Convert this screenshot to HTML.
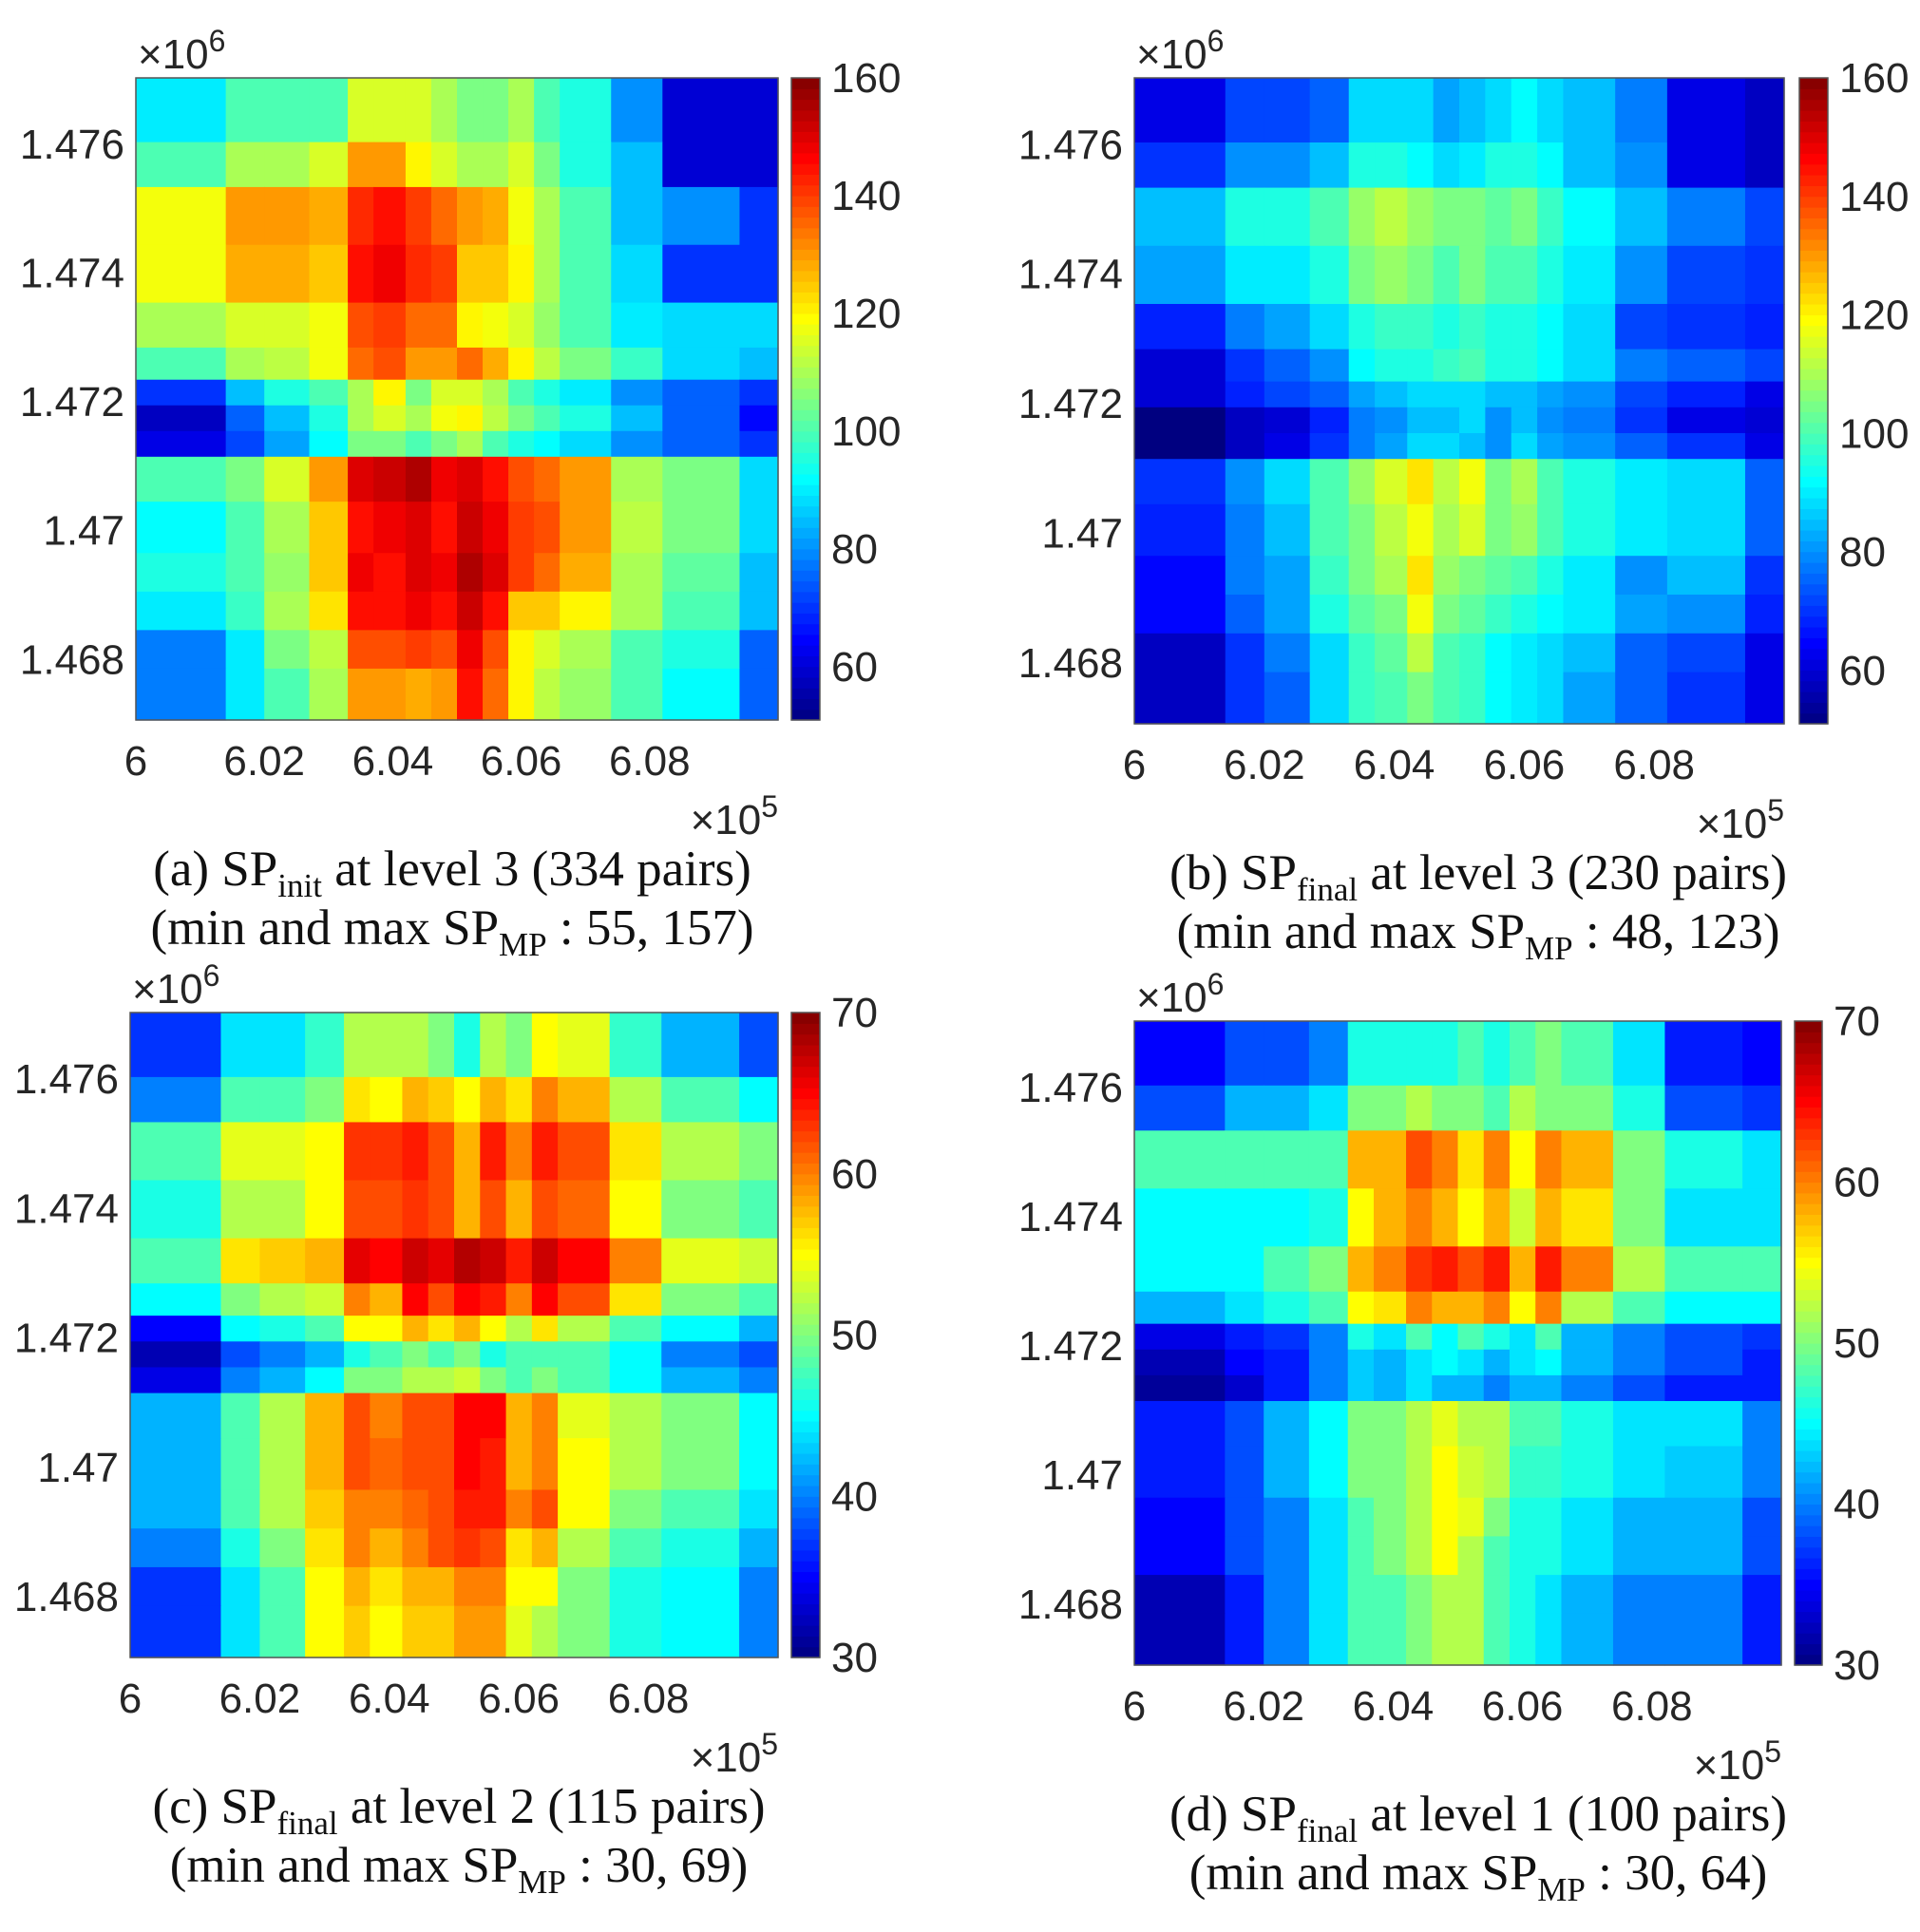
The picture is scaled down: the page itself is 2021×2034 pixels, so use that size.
<!DOCTYPE html>
<html><head><meta charset="utf-8">
<style>
html,body{margin:0;padding:0;background:#fff;}
svg{display:block;}
.tk{font-family:"Liberation Sans",sans-serif;font-size:44px;fill:#262626;}
.cap{font-family:"Liberation Serif",serif;font-size:53px;fill:#111;}
</style></head>
<body>
<svg id="fig" width="2021" height="2034" viewBox="0 0 2021 2034" xmlns="http://www.w3.org/2000/svg"></svg>
<script>
// shared grid edges (fractions of axis range)
const xEdges=[0,0.14,0.2,0.27,0.33,0.37,0.42,0.46,0.5,0.54,0.58,0.62,0.66,0.74,0.82,0.94,1];
const yEdges=[0,0.1,0.17,0.26,0.35,0.42,0.47,0.51,0.55,0.59,0.66,0.74,0.8,0.86,0.92,1];
const xTickLabels=["6","6.02","6.04","6.06","6.08"];
const xTickVals=[6,6.02,6.04,6.06,6.08];
const yTickLabels=["1.476","1.474","1.472","1.47","1.468"];
const yTickVals=[1.476,1.474,1.472,1.470,1.468];
const cbTicksA=[60,80,100,120,140,160];
const cbTicksC=[30,40,50,60,70];
const valsA=[
[90,100,100,100,115,115,115,110,105,105,110,100,95,80,60,60],
[100,110,110,115,130,130,120,115,110,110,115,105,95,85,60,60],
[118,130,130,128,142,145,140,135,130,128,118,110,100,85,80,70],
[118,128,128,125,145,148,142,140,125,125,120,110,100,88,70,70],
[110,115,115,118,138,140,135,135,120,118,115,108,100,90,88,88],
[100,110,112,118,135,138,130,130,135,128,120,112,105,98,88,85],
[70,85,95,100,110,120,105,115,115,110,100,95,90,80,75,70],
[58,75,85,95,110,115,110,118,120,112,105,100,95,85,75,65],
[62,72,82,92,105,105,100,105,110,100,95,92,88,80,75,70],
[100,105,115,130,150,152,155,148,150,145,138,135,130,110,105,88],
[92,100,110,125,145,148,150,145,152,148,140,138,130,112,105,88],
[95,100,108,125,148,145,150,148,155,150,140,135,128,110,102,85],
[90,98,110,122,145,145,148,145,152,145,125,125,120,110,100,85],
[78,90,105,112,138,138,140,138,148,138,120,115,110,100,95,75],
[78,90,100,110,130,130,128,130,145,135,120,112,108,100,92,75]];
const valsB=[
[62,72,72,75,88,88,88,82,85,88,92,88,85,78,62,58],
[70,80,80,85,95,95,92,88,90,95,95,92,85,80,62,58],
[85,95,95,100,108,112,108,105,105,102,105,98,92,85,78,72],
[82,90,90,95,105,108,105,100,105,100,100,95,90,80,72,70],
[68,78,82,88,95,98,98,95,98,95,95,92,88,72,70,68],
[60,70,75,80,92,95,95,98,100,95,95,92,88,78,75,72],
[60,68,72,75,82,85,88,88,88,85,85,82,80,72,68,62],
[50,58,60,68,78,80,85,85,88,80,85,80,78,70,62,60],
[50,58,62,70,78,82,88,88,85,80,88,82,80,75,70,62],
[70,80,88,100,108,115,122,112,118,105,110,100,95,90,88,75],
[68,78,85,100,105,112,118,110,115,105,108,100,95,90,88,75],
[65,78,82,98,105,110,122,108,105,102,100,95,90,80,85,70],
[65,75,82,95,102,105,118,105,102,98,95,92,90,82,80,68],
[58,70,78,88,98,102,112,100,98,92,90,88,85,75,72,62],
[58,70,75,88,98,100,105,100,98,92,90,88,82,75,70,62]];
const valsC=[
[37,44,44,47,52,52,52,50,46,52,50,55,54,47,42,38],
[40,48,48,50,56,55,58,57,55,58,56,60,58,52,48,45],
[48,54,54,55,63,63,64,62,58,64,60,64,62,56,52,50],
[46,52,52,55,62,62,63,62,58,62,58,62,61,55,50,48],
[48,56,57,58,66,65,67,66,68,67,64,67,65,60,54,53],
[45,50,52,53,60,58,65,62,65,64,60,65,62,56,50,48],
[35,45,46,48,55,55,58,56,58,55,52,56,52,48,45,42],
[32,38,40,42,46,48,50,48,50,46,48,48,48,45,40,38],
[34,40,42,45,50,50,52,52,53,50,48,50,48,45,42,40],
[42,48,52,58,62,60,62,62,65,65,58,60,54,52,50,45],
[42,48,52,58,62,61,62,62,65,64,58,60,55,52,50,45],
[42,48,52,57,60,60,61,62,64,64,60,62,55,50,48,44],
[40,46,50,56,60,58,60,62,63,62,56,58,52,48,46,42],
[37,44,48,55,58,56,58,58,60,60,55,55,50,46,45,40],
[37,44,48,55,57,55,57,57,59,59,54,52,50,46,45,40]];
const valsD=[
[35,38,38,40,46,46,46,46,48,46,48,50,48,44,36,35],
[38,42,42,44,50,50,52,50,50,48,52,50,50,46,38,37],
[48,48,48,48,58,58,62,60,56,60,55,60,58,50,46,44],
[45,45,45,46,55,58,60,58,55,58,53,58,56,50,44,44],
[45,45,48,50,58,60,63,64,62,64,58,64,60,52,48,48],
[42,44,46,48,55,56,60,58,58,60,55,60,52,48,45,45],
[34,36,37,40,46,44,48,45,48,46,44,48,42,40,38,37],
[32,35,36,40,43,42,44,45,44,42,44,45,42,40,38,36],
[31,33,36,40,43,42,44,42,42,40,42,42,40,38,36,36],
[36,38,42,45,50,50,52,54,52,52,48,48,46,44,44,40],
[36,38,42,45,50,50,52,55,53,52,47,47,46,44,43,40],
[35,38,40,44,48,50,52,55,54,50,46,46,44,42,42,38],
[35,38,40,44,48,50,52,55,52,48,46,46,44,42,42,38],
[32,36,40,44,48,48,50,52,52,48,46,44,42,40,40,36],
[32,36,40,44,48,48,50,52,52,48,46,44,42,40,40,36]];

const NS="http://www.w3.org/2000/svg";
const svg=document.getElementById('fig');
function jet(t){t=Math.max(0,Math.min(1,t));
 const c=x=>Math.round(255*Math.max(0,Math.min(1,x)));
 return `rgb(${c(1.5-Math.abs(4*t-3))},${c(1.5-Math.abs(4*t-2))},${c(1.5-Math.abs(4*t-1))})`;}
function mk(tag,attrs,parent){const e=document.createElementNS(NS,tag);for(const k in attrs)e.setAttribute(k,attrs[k]);(parent||svg).appendChild(e);return e;}

function panel(o){
 const g=mk('g',{});
 
 
 const X=v=>o.px+(v-6)/0.1*o.pw;
 const Y=v=>o.py+(1.47703-v)/(1.47703-1.46706)*o.ph;
 const C=v=>(v-o.vmin)/(o.vmax-o.vmin);
 o.vals.forEach((row,r)=>row.forEach((v,c)=>{
  const x0=X(6+xEdges[c]*0.1),x1=X(6+xEdges[c+1]*0.1);
  const y0=Y(1.47703-yEdges[r]*0.00997),y1=Y(1.47703-yEdges[r+1]*0.00997);
  const rc=mk('rect',{x:x0,y:y0,width:x1-x0+0.6,height:y1-y0+0.6,fill:jet(C(v))},g);
  
  
 }));
 const fr=mk('rect',{x:o.px,y:o.py,width:o.pw,height:o.ph,fill:'none',stroke:'#555','stroke-width':1.5},g);
 
 
 xTickVals.forEach((v,i)=>{
  const t=mk('text',{x:X(v),y:o.py+o.ph+58,'text-anchor':'middle',class:'tk'},g);t.textContent=xTickLabels[i];
  
  
 });
 yTickVals.forEach((v,i)=>{
  const t=mk('text',{x:o.px-12,y:Y(v)+15,'text-anchor':'end',class:'tk'},g);t.textContent=yTickLabels[i];
  
  
 });
 const ex=mk('text',{x:o.px+o.pw,y:o.py+o.ph+120,'text-anchor':'end',class:'tk'},g);
 ex.innerHTML='×10<tspan dy="-18" font-size="32">5</tspan>';
 
 
 const ey=mk('text',{x:o.px+2,y:o.py-10,class:'tk'},g);
 ey.innerHTML='×10<tspan dy="-18" font-size="32">6</tspan>';
 
 
 const N=60;
 for(let i=0;i<N;i++){const s=mk('rect',{x:o.cbx,y:o.py+o.ph*(1-(i+1)/N),width:o.cbw,height:o.ph/N+0.6,fill:jet((i+0.5)/N)},g);
  
  }
 const cf=mk('rect',{x:o.cbx,y:o.py,width:o.cbw,height:o.ph,fill:'none',stroke:'#555','stroke-width':1.5},g);
 
 
 o.cbTicks.forEach(v=>{
  const yy=o.py+o.ph*(1-C(v));
  const t=mk('text',{x:o.cbx+o.cbw+12,y:yy+15,class:'tk'},g);t.textContent=v;
  
  
 });
 const cx=o.capx;
 const l1=mk('text',{x:cx,y:o.py+o.ph+174,'text-anchor':'middle',class:'cap'},g);
 l1.innerHTML=o.cap1;
 
 
 const l2=mk('text',{x:cx,y:o.py+o.ph+236,'text-anchor':'middle',class:'cap'},g);
 l2.innerHTML=o.cap2;
 
 
}
const S1='<tspan font-size="35" dy="12">',S2='</tspan><tspan dy="-12">';
panel({name:'panel-a',vals:valsA,px:143,py:82,pw:676,ph:676,cbx:833,cbw:30,vmin:51,vmax:160,cbTicks:cbTicksA,capx:476,
 cap1:'(a) SP'+S1+'init'+S2+' at level 3 (334 pairs)</tspan>',
 cap2:'(min and max SP'+S1+'MP'+S2+' : 55, 157)</tspan>'});
panel({name:'panel-b',vals:valsB,px:1194,py:82,pw:684,ph:680,cbx:1894,cbw:30,vmin:51,vmax:160,cbTicks:cbTicksA,capx:1556,
 cap1:'(b) SP'+S1+'final'+S2+' at level 3 (230 pairs)</tspan>',
 cap2:'(min and max SP'+S1+'MP'+S2+' : 48, 123)</tspan>'});
panel({name:'panel-c',vals:valsC,px:137,py:1066,pw:682,ph:679,cbx:833,cbw:30,vmin:30,vmax:70,cbTicks:cbTicksC,capx:483,
 cap1:'(c) SP'+S1+'final'+S2+' at level 2 (115 pairs)</tspan>',
 cap2:'(min and max SP'+S1+'MP'+S2+' : 30, 69)</tspan>'});
panel({name:'panel-d',vals:valsD,px:1194,py:1075,pw:681,ph:678,cbx:1889,cbw:29,vmin:30,vmax:70,cbTicks:cbTicksC,capx:1556,
 cap1:'(d) SP'+S1+'final'+S2+' at level 1 (100 pairs)</tspan>',
 cap2:'(min and max SP'+S1+'MP'+S2+' : 30, 64)</tspan>'});
</script>
</body></html>
